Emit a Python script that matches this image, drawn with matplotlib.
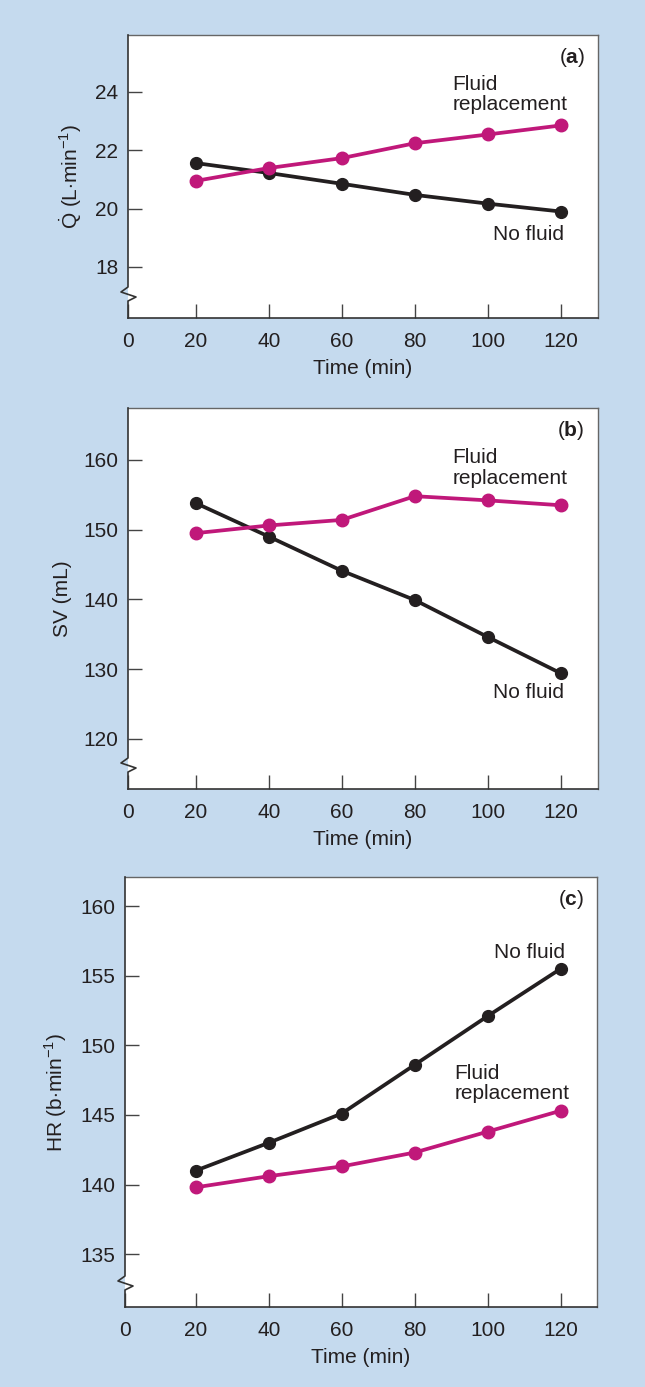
import matplotlib.pyplot as plt

plt.rcParams['font.family'] = ['Liberation Sans', 'DejaVu Sans']
plt.rcParams['mathtext.fontset'] = 'custom'
plt.rcParams['mathtext.rm'] = 'Liberation Sans'
plt.rcParams['mathtext.bf'] = 'Liberation Sans:bold'

time = [20, 40, 60, 80, 100, 120]
xticks = [0, 20, 40, 60, 80, 100, 120]

# (a) cardiac output
q_fluid = [20.95, 21.39, 21.73, 22.24, 22.54, 22.85]
q_nofluid = [21.56, 21.22, 20.85, 20.47, 20.17, 19.90]
# (b) stroke volume
sv_fluid = [149.5, 150.6, 151.4, 154.8, 154.2, 153.5]
sv_nofluid = [153.8, 149.0, 144.1, 139.9, 134.6, 129.4]
# (c) heart rate
hr_fluid = [139.8, 140.6, 141.3, 142.3, 143.8, 145.3]
hr_nofluid = [141.0, 143.0, 145.1, 148.6, 152.1, 155.5]

BG = '#c5daee'
MAG = '#c0187a'
BLK = '#231f20'
FS = 15

fig = plt.figure(figsize=(6.45, 13.87), dpi=100, facecolor=BG)
W, H = 645, 1387


def make_ax(l, r, t, b):
    return fig.add_axes([l / W, 1 - b / H, (r - l) / W, (b - t) / H])


def break_spine(ax):
    # left spine with a zigzag axis break near the bottom
    ax.spines['left'].set_visible(False)
    w, h = ax.bbox.width, ax.bbox.height
    xs = [0, 0, -7, 8, 0, 0]
    ys = [h, 31, 26, 21, 17, 0]
    ax.plot([x / w for x in xs], [y / h for y in ys], transform=ax.transAxes,
            clip_on=False, color='#333333', lw=1.2, zorder=5)


def style(ax, xlim, ylim, yticks, ylabel, letter):
    ax.set_facecolor('white')
    ax.set_xlim(*xlim)
    ax.set_ylim(*ylim)
    xt = [xlim[0]] + xticks[1:]
    ax.set_xticks(xt)
    ax.set_xticklabels([str(v) for v in xticks])
    ax.set_yticks(yticks)
    ax.set_yticklabels([str(v) for v in yticks])
    ax.tick_params(direction='in', length=10, width=1, color='#444444',
                   labelsize=FS, labelcolor=BLK, pad=7)
    ax.tick_params(axis='x', pad=10)
    for s in ['top', 'right']:
        ax.spines[s].set_color('#666666')
        ax.spines[s].set_linewidth(1)
    ax.spines['bottom'].set_color('#333333')
    ax.spines['bottom'].set_linewidth(1.2)
    break_spine(ax)
    ax.set_xlabel('Time (min)', fontsize=FS, color=BLK, labelpad=6)
    ax.set_ylabel(ylabel, fontsize=FS, color=BLK, labelpad=8)
    ax.annotate('($\\mathbf{%s}$)' % letter, xy=(1, 1), xycoords='axes fraction',
                xytext=(-9.5, -16), textcoords='offset points',
                ha='right', va='center', fontsize=FS, color=BLK)


def draw(ax, fluid, nofluid):
    ax.plot(time, nofluid, color=BLK, lw=2.7, marker='o', ms=8.5, zorder=3,
            clip_on=False)
    ax.plot(time, fluid, color=MAG, lw=2.7, marker='o', ms=9, zorder=4,
            clip_on=False)


# panel a
ax1 = make_ax(128, 598, 35, 318)
draw(ax1, q_fluid, q_nofluid)
style(ax1, (1.4, 130.2), (16.25, 25.95), [18, 20, 22, 24],
      '$\\dot{\\mathrm{Q}}$ (L$\\cdot$min$^{-1}$)', 'a')
ax1.text(90.3, 24.58, 'Fluid\nreplacement', fontsize=FS, color=BLK,
         ha='left', va='top', linespacing=1.08)
ax1.text(121.0, 19.1, 'No fluid', fontsize=FS, color=BLK, ha='right', va='center')

# panel b
ax2 = make_ax(128, 598, 408, 789)
draw(ax2, sv_fluid, sv_nofluid)
style(ax2, (1.4, 130.2), (112.8, 167.45), [120, 130, 140, 150, 160], 'SV (mL)', 'b')
ax2.text(90.3, 161.65, 'Fluid\nreplacement', fontsize=FS, color=BLK,
         ha='left', va='top', linespacing=1.08)
ax2.text(121.0, 126.6, 'No fluid', fontsize=FS, color=BLK, ha='right', va='center')

# panel c
ax3 = make_ax(125, 597, 877, 1307)
draw(ax3, hr_fluid, hr_nofluid)
style(ax3, (0.6, 130.0), (131.2, 162.1), [135, 140, 145, 150, 155, 160],
      'HR (b$\\cdot$min$^{-1}$)', 'c')
ax3.text(91.0, 148.65, 'Fluid\nreplacement', fontsize=FS, color=BLK,
         ha='left', va='top', linespacing=1.08)
ax3.text(121.2, 156.7, 'No fluid', fontsize=FS, color=BLK, ha='right', va='center')

fig.savefig('out.png', dpi=100, facecolor=BG)
